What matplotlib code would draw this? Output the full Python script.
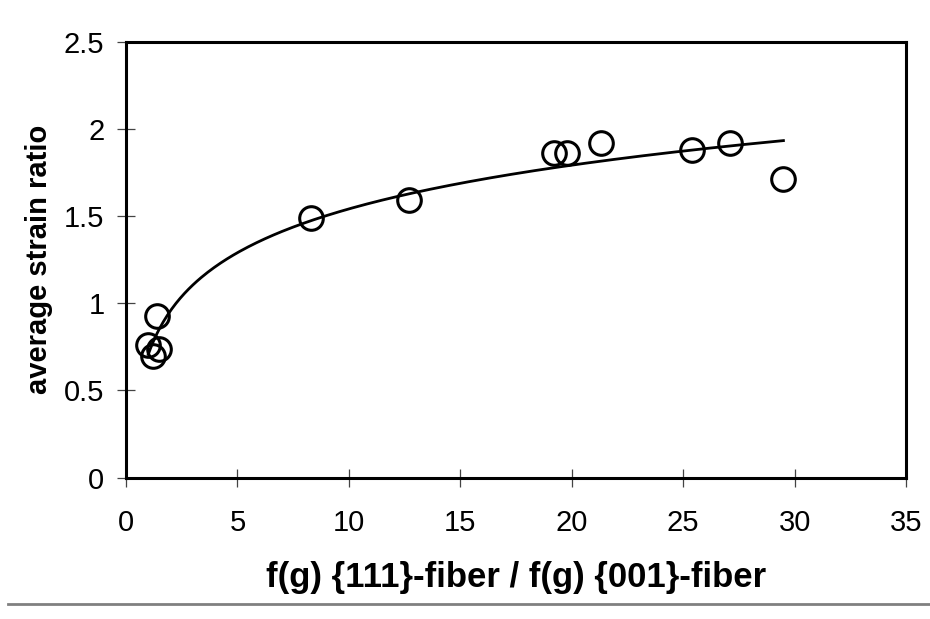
import numpy as np
import matplotlib
matplotlib.use("Agg")
import matplotlib.pyplot as plt
from matplotlib.lines import Line2D

# data
ratio_x = [1.0, 1.2, 1.5, 1.4, 8.3, 12.7, 19.2, 19.8, 21.3, 25.4, 27.1, 29.5]
strain_y = [0.76, 0.70, 0.74, 0.93, 1.49, 1.59, 1.86, 1.86, 1.92, 1.88, 1.92, 1.71]
x_ticks = [0, 5, 10, 15, 20, 25, 30, 35]
y_ticks = [0, 0.5, 1, 1.5, 2, 2.5]
y_tick_labels = ["0", "0.5", "1", "1.5", "2", "2.5"]
x_label = "f(g) {111}-fiber / f(g) {001}-fiber"
y_label = "average strain ratio"

plt.rcParams['font.family'] = ['Liberation Sans', 'DejaVu Sans']

fig = plt.figure(figsize=(9.30, 6.19), dpi=100)
ax = fig.add_axes([126/930, 1-477.7/619, (906-126)/930, (477.7-41.7)/619])

# logarithmic trendline (least squares on ln x), like a spreadsheet trendline
xd = np.array(ratio_x)
yd = np.array(strain_y)
a, b = np.polyfit(np.log(xd), yd, 1)
xs = np.linspace(xd.min(), xd.max(), 300)
ax.plot(xs, a*np.log(xs) + b, color='black', lw=2.0, zorder=2)

ax.plot(ratio_x, strain_y, linestyle='none', marker='o', markersize=17,
        markerfacecolor='none', markeredgecolor='black', markeredgewidth=2.2, zorder=3)

ax.set_xlim(0, 35)
ax.set_ylim(0, 2.5)
ax.set_xticks(x_ticks)
ax.set_xticklabels([str(t) for t in x_ticks])
ax.set_yticks(y_ticks)
ax.set_yticklabels(y_tick_labels)

for s in ax.spines.values():
    s.set_linewidth(2.2)
    s.set_color('black')

ax.tick_params(axis='both', direction='inout', length=13, width=0.9,
               color='#444444', labelsize=21, top=False, right=False)
ax.tick_params(axis='x', pad=16)
ax.tick_params(axis='y', pad=9)

ax.set_xlabel(x_label, fontsize=25, fontweight='bold', labelpad=17)
ax.set_ylabel(y_label, fontsize=21, fontweight='bold', labelpad=8)

fig.add_artist(Line2D([8/930, 1.0], [1-604/619, 1-604/619], transform=fig.transFigure,
                      color='#808080', lw=2))

fig.savefig("out.png", dpi=100)
